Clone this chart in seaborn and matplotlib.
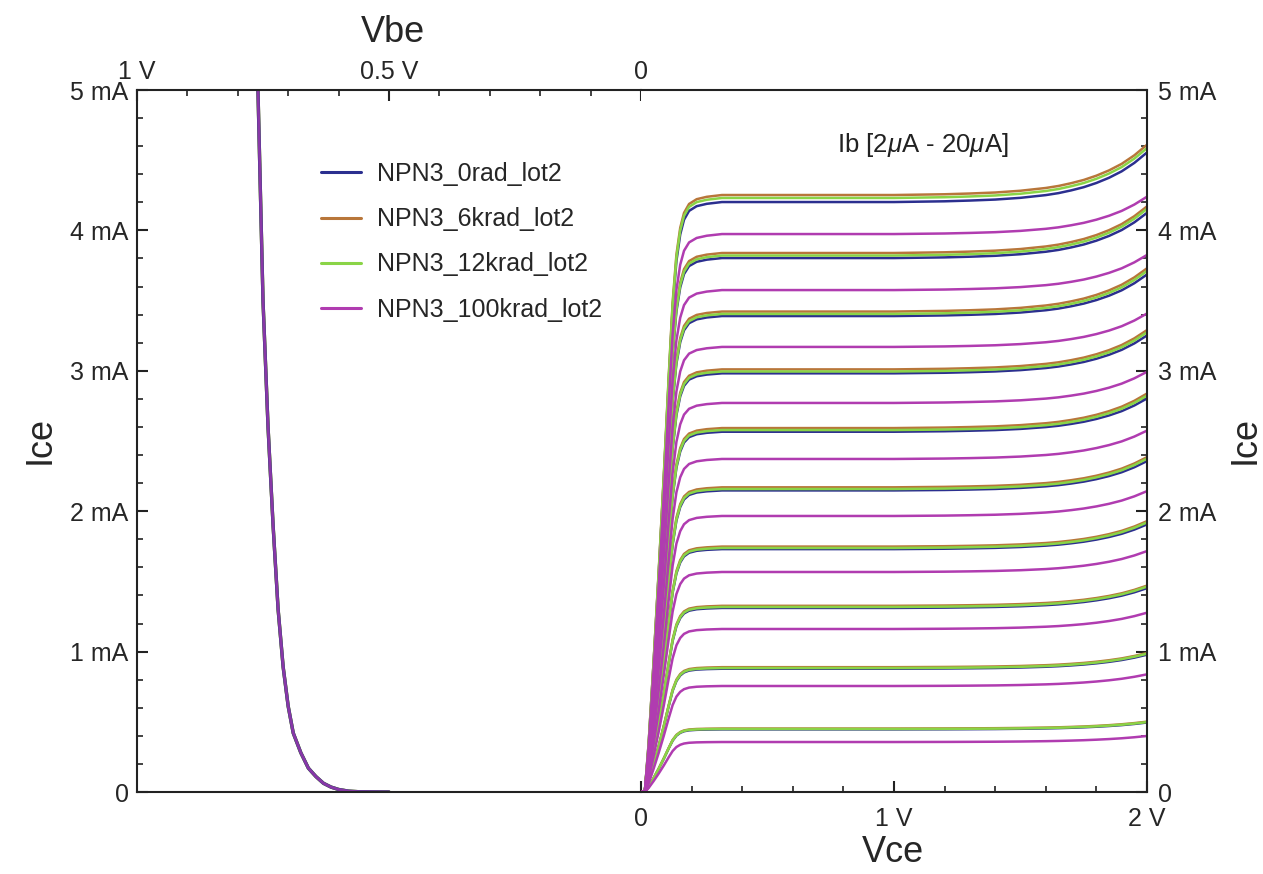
import numpy as np
import pandas as pd
import matplotlib
matplotlib.use("Agg")
import matplotlib.pyplot as plt
from matplotlib.ticker import MultipleLocator, FixedLocator, FixedFormatter
from matplotlib.lines import Line2D
import seaborn as sns

# ---- data -------------------------------------------------------------
series = ["NPN3_0rad_lot2", "NPN3_6krad_lot2", "NPN3_12krad_lot2", "NPN3_100krad_lot2"]
colors = ["#2b2f8f", "#b8763a", "#8ad447", "#b03cb0"]
ib_uA = [2, 4, 6, 8, 10, 12, 14, 16, 18, 20]

# Input characteristic: Ic (mA) versus Vbe (V)
vbe = [0.50, 0.56, 0.58, 0.60, 0.615, 0.63, 0.645, 0.66, 0.675, 0.69,
       0.70, 0.71, 0.72, 0.73, 0.74, 0.75, 0.76, 0.775]
ic_vbe = [0.000, 0.002, 0.006, 0.018, 0.035, 0.062, 0.11, 0.17, 0.28, 0.42,
          0.61, 0.89, 1.30, 1.90, 2.60, 3.50, 5.00, 7.00]

# Output characteristics: common Vce grid, knee profile and end rise profile
vce = [0.000, 0.015, 0.030, 0.050, 0.070, 0.090, 0.110, 0.125, 0.140, 0.155,
       0.170, 0.190, 0.220, 0.260, 0.320, 0.400, 0.600, 0.800, 1.000, 1.200,
       1.300, 1.400, 1.500, 1.600, 1.650, 1.700, 1.750, 1.800, 1.850, 1.900,
       1.950, 2.000]
knee = [0.000, 0.000, 0.080, 0.220, 0.370, 0.530, 0.700, 0.820, 0.900, 0.945,
        0.970, 0.985, 0.993, 0.997, 1.000, 1.000, 1.000, 1.000, 1.000, 1.000,
        1.000, 1.000, 1.000, 1.000, 1.000, 1.000, 1.000, 1.000, 1.000, 1.000,
        1.000, 1.000]
tail = [0.000, 0.000, 0.000, 0.000, 0.000, 0.000, 0.000, 0.000, 0.000, 0.000,
        0.000, 0.000, 0.000, 0.000, 0.000, 0.000, 0.000, 0.000, 0.000, 0.015,
        0.030, 0.050, 0.085, 0.140, 0.180, 0.235, 0.300, 0.385, 0.490, 0.620,
        0.790, 1.000]

# Plateau current (mA) and current at Vce = 2 V for each base current
sat_0rad = [0.446, 0.878, 1.311, 1.730, 2.148, 2.566, 2.982, 3.390, 3.803, 4.202]
sat_6krad = [0.452, 0.889, 1.326, 1.748, 2.170, 2.592, 3.010, 3.422, 3.839, 4.252]
sat_12krad = [0.449, 0.883, 1.318, 1.738, 2.158, 2.578, 2.995, 3.405, 3.821, 4.231]
sat_100krad = [0.356, 0.755, 1.161, 1.567, 1.966, 2.372, 2.771, 3.170, 3.575, 3.974]
end_0rad = [0.495, 0.978, 1.452, 1.906, 2.357, 2.803, 3.252, 3.686, 4.125, 4.555]
end_6krad = [0.501, 0.990, 1.470, 1.929, 2.385, 2.838, 3.290, 3.730, 4.171, 4.610]
end_12krad = [0.498, 0.985, 1.463, 1.920, 2.374, 2.823, 3.274, 3.711, 4.153, 4.586]
end_100krad = [0.399, 0.838, 1.277, 1.716, 2.143, 2.574, 2.993, 3.408, 3.825, 4.240]

sat_levels = [sat_0rad, sat_6krad, sat_12krad, sat_100krad]
end_levels = [end_0rad, end_6krad, end_12krad, end_100krad]

# ---- tidy tables --------------------------------------------------------
rows_in = []
for name in series:
    for v, i in zip(vbe, ic_vbe):
        rows_in.append((name, v, i))
df_in = pd.DataFrame(rows_in, columns=["series", "Vbe", "Ice"])

knee_a = np.array(knee)
tail_a = np.array(tail)
rows_out = []
for name, sats, ends in zip(series, sat_levels, end_levels):
    for ib, s, e in zip(ib_uA, sats, ends):
        curve = s * knee_a + (e - s) * tail_a
        for v, i in zip(vce, curve):
            rows_out.append((name, ib, v, i))
df_out = pd.DataFrame(rows_out, columns=["series", "ib", "Vce", "Ice"])

# ---- figure -------------------------------------------------------------
sns.set_theme(style="white")
plt.rcParams["font.family"] = ["Liberation Sans", "DejaVu Sans"]
plt.rcParams["mathtext.fontset"] = "custom"
plt.rcParams["mathtext.rm"] = "Liberation Sans"
plt.rcParams["mathtext.it"] = "Liberation Sans:italic"

W, H = 1263, 874
fig = plt.figure(figsize=(W / 100, H / 100), dpi=100)
x0, xm, x1 = 137 / W, 641 / W, 1147 / W
yb, yt = 1 - 792 / H, 1 - 90 / H
ax_l = fig.add_axes([x0, yb, xm - x0, yt - yb])
ax_r = fig.add_axes([xm, yb, x1 - xm, yt - yb], sharey=ax_l)

palette = dict(zip(series, colors))
lw = 1.8
# the four input curves coincide: blue ends up under a translucent magenta
under_order = [series[1], series[2], series[0]]
sns.lineplot(data=df_in[df_in["series"] != series[-1]], x="Vbe", y="Ice",
             hue="series", hue_order=under_order, palette=palette,
             estimator=None, sort=False, legend=False, linewidth=2.4, ax=ax_l)
sns.lineplot(data=df_in[df_in["series"] == series[-1]], x="Vbe", y="Ice",
             color=colors[-1], estimator=None, sort=False, legend=False,
             linewidth=2.0, alpha=0.7, ax=ax_l)
sns.lineplot(data=df_out, x="Vce", y="Ice", hue="series", hue_order=series,
             units="ib", palette=palette, estimator=None, sort=False,
             legend=False, linewidth=lw, ax=ax_r)

spine_c = "#222222"
tick_fs = 18
for ax in (ax_l, ax_r):
    ax.set_ylim(0, 5)
    for sp in ax.spines.values():
        sp.set_color(spine_c)
        sp.set_linewidth(1.5)
    ax.set_xlabel("")
    ax.set_ylabel("")

ytick_vals = [0, 1, 2, 3, 4, 5]
ytick_txt = ["0", "1 mA", "2 mA", "3 mA", "4 mA", "5 mA"]

# left panel: Vbe on top, reversed
ax_l.set_xlim(1, 0)
ax_l.spines["right"].set_visible(False)
ax_l.xaxis.tick_top()
ax_l.xaxis.set_major_locator(FixedLocator([1, 0.5, 0]))
ax_l.xaxis.set_major_formatter(FixedFormatter(["1 V", "0.5 V", "0"]))
ax_l.xaxis.set_minor_locator(MultipleLocator(0.1))
ax_l.yaxis.set_major_locator(FixedLocator(ytick_vals))
ax_l.yaxis.set_major_formatter(FixedFormatter(ytick_txt))
ax_l.yaxis.set_minor_locator(MultipleLocator(0.2))
ax_l.tick_params(axis="x", which="both", direction="in", top=True, bottom=False,
                 labeltop=True, labelbottom=False, color=spine_c)
ax_l.tick_params(axis="y", which="both", direction="in", left=True, right=False,
                 labelleft=True, labelright=False, color=spine_c)
ax_l.tick_params(which="major", length=8, width=1.5, labelsize=tick_fs, pad=6)
ax_l.tick_params(axis="x", which="major", pad=4)
ax_l.tick_params(which="minor", length=4.5, width=1.2)

# right panel: Vce on bottom
ax_r.set_xlim(0, 2)
ax_r.spines["left"].set_visible(False)
ax_r.xaxis.set_major_locator(FixedLocator([0, 1, 2]))
ax_r.xaxis.set_major_formatter(FixedFormatter(["0", "1 V", "2 V"]))
ax_r.xaxis.set_minor_locator(MultipleLocator(0.2))
ax_r.yaxis.tick_right()
ax_r.tick_params(axis="x", which="both", direction="in", top=False, bottom=True,
                 labeltop=False, labelbottom=True, color=spine_c)
ax_r.tick_params(axis="y", which="both", direction="in", left=False, right=True,
                 labelleft=False, labelright=True, color=spine_c)
ax_r.tick_params(which="major", length=8, width=1.5, labelsize=tick_fs, pad=8)
ax_r.tick_params(axis="x", which="major", pad=11)
ax_r.tick_params(which="minor", length=4.5, width=1.2)

# axis titles
lab_fs = 26
fig.text(393 / W, 1 - 33 / H, "Vbe", ha="center", va="center", fontsize=lab_fs)
fig.text(893 / W, 1 - 852 / H, "Vce", ha="center", va="center", fontsize=lab_fs)
fig.text(40 / W, 1 - 440 / H, "Ice", ha="center", va="center", fontsize=lab_fs, rotation=90)
fig.text(1245 / W, 1 - 440 / H, "Ice", ha="center", va="center", fontsize=lab_fs, rotation=90)

# base current range annotation
ax_r.text(0.775, 4.61, r"Ib [2$\mu$A - 20$\mu$A]", ha="left", va="center",
          fontsize=18.5, color="#222222")

# legend
handles = [Line2D([], [], color=c, lw=2.2) for c in colors]
fig.legend(handles, series, loc="upper left",
           bbox_to_anchor=(321 / W, 1 - 162 / H), frameon=False,
           fontsize=18, handlelength=1.6, handletextpad=0.65,
           labelspacing=0.85, borderpad=0, borderaxespad=0)

fig.savefig("out.png", dpi=100, facecolor="white")
